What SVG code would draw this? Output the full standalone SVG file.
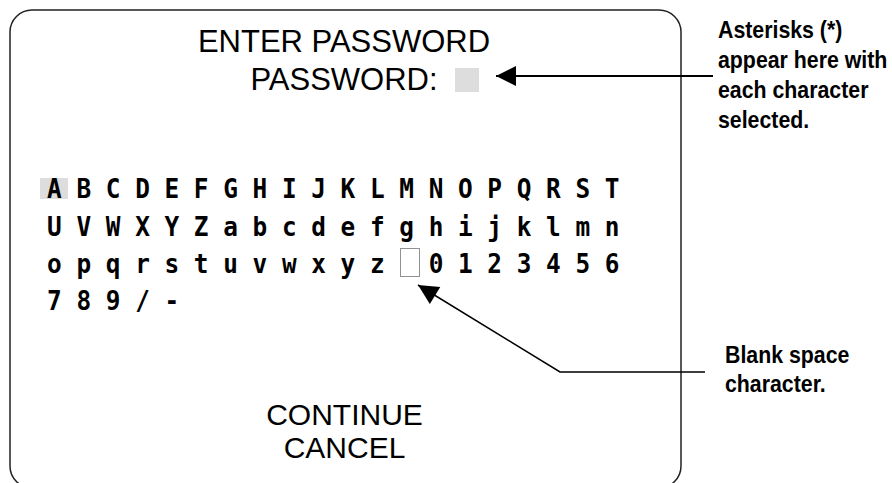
<svg xmlns="http://www.w3.org/2000/svg" width="892" height="483" viewBox="0 0 892 483">
<style>
.title{font-family:"Liberation Sans",Arial,sans-serif;font-size:31px;fill:#000;text-anchor:middle}
.menu{font-family:"Liberation Sans",Arial,sans-serif;font-size:30px;fill:#000;text-anchor:middle}
.grid{font-family:"DejaVu Sans Mono",monospace;font-weight:bold;font-size:27px;fill:#000}
.note{font-family:"Liberation Sans",Arial,sans-serif;font-weight:bold;font-size:24.5px;fill:#000}
.lead{fill:none;stroke:#000}
</style>
<defs>
<marker id="ah" viewBox="0 0 10 10" refX="10" refY="5" markerUnits="userSpaceOnUse" markerWidth="21" markerHeight="20" orient="auto-start-reverse">
<path d="M0,0 L10,5 L0,10 z" fill="#000"/>
</marker>
</defs>
<g id="screen">
<rect x="10" y="10" width="671" height="478" rx="22" ry="22" fill="#fff" stroke="#222" stroke-width="1.5"/>
<text class="title" x="344" y="52">ENTER PASSWORD</text>
<text class="title" x="344" y="90">PASSWORD:</text>
<rect x="455" y="68" width="24" height="24" fill="#ddd"/>
<rect x="40" y="178" width="28" height="21" fill="#ddd"/>
<rect x="400.5" y="248.5" width="19" height="28" fill="none" stroke="#222" stroke-width="1" stroke-dasharray="1 1"/>
<g transform="translate(47.1,0) scale(0.903,1)">
<text class="grid" x="0" y="198" xml:space="preserve">A B C D E F G H I J K L M N O P Q R S T</text>
<text class="grid" x="0" y="236" xml:space="preserve">U V W X Y Z a b c d e f g h i j k l m n</text>
<text class="grid" x="0" y="273" xml:space="preserve">o p q r s t u v w x y z   0 1 2 3 4 5 6</text>
<text class="grid" x="0" y="310" xml:space="preserve">7 8 9 / -</text>
</g>
<text class="menu" x="344.5" y="425">CONTINUE</text>
<text class="menu" x="344.5" y="458">CANCEL</text>
</g>
<g id="note-asterisks" transform="translate(718,0) scale(0.87,1)">
<text class="note" x="0" y="38">Asterisks (*)</text>
<text class="note" x="0" y="68">appear here with</text>
<text class="note" x="0" y="98">each character</text>
<text class="note" x="0" y="128">selected.</text>
</g>
<g id="note-blank" transform="translate(725,0) scale(0.87,1)">
<text class="note" x="0" y="363">Blank space</text>
<text class="note" x="0" y="392">character.</text>
</g>
<g id="connectors">
<path class="lead" d="M496,76 L713,76" stroke-width="2" marker-start="url(#ah)"/>
<path class="lead" d="M418,285 L560,372 L705,372" stroke-width="1.5" marker-start="url(#ah)"/>
</g>
</svg>
